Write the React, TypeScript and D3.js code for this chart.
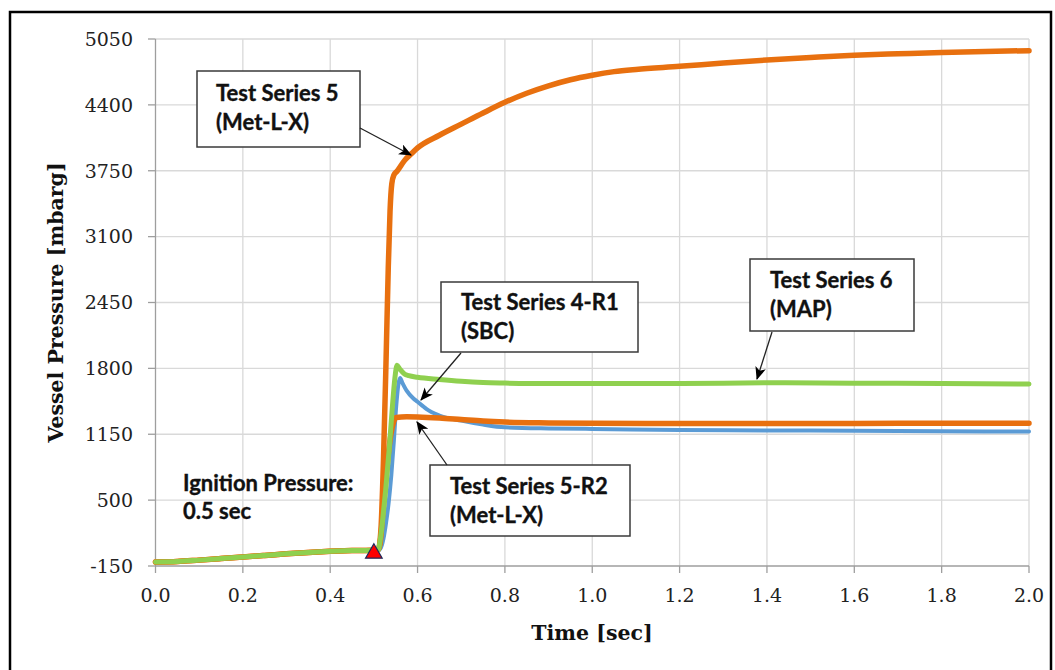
import React from "react";
import * as d3 from "d3";

// Axis ticks
const xTicks = [0, 0.2, 0.4, 0.6, 0.8, 1.0, 1.2, 1.4, 1.6, 1.8, 2.0];
const yTicks = [-150, 500, 1150, 1800, 2450, 3100, 3750, 4400, 5050];

// Shared pre-ignition pressure trace (all tests)
const preTime = [0, 0.05, 0.1, 0.15, 0.2, 0.25, 0.3, 0.35, 0.4, 0.45, 0.5];
const preValue = [-110, -106, -92, -77, -62, -46, -30, -16, -5, 2, 5];

// Test Series 5 (Met-L-X)
const ts5Time = [0.51, 0.516, 0.522, 0.528, 0.533, 0.537, 0.541, 0.546, 0.553, 0.57, 0.59, 0.6, 0.65, 0.7, 0.75, 0.8, 0.85, 0.9, 0.95, 1.0, 1.05, 1.1, 1.2, 1.3, 1.4, 1.5, 1.6, 1.7, 1.8, 1.9, 2.0];
const ts5Value = [10, 200, 900, 1900, 2800, 3350, 3620, 3710, 3745, 3850, 3935, 3975, 4100, 4210, 4320, 4425, 4515, 4588, 4648, 4693, 4728, 4750, 4780, 4813, 4843, 4868, 4890, 4904, 4917, 4927, 4935];

// Test Series 5-R2 (Met-L-X)
const ts5r2Time = [0.51, 0.515, 0.52, 0.527, 0.533, 0.539, 0.545, 0.551, 0.575, 0.6, 0.65, 0.7, 0.75, 0.8, 0.9, 1.0, 1.2, 1.4, 1.6, 1.8, 2.0];
const ts5r2Value = [10, 100, 350, 700, 950, 1150, 1270, 1315, 1322, 1320, 1310, 1295, 1280, 1270, 1262, 1258, 1255, 1256, 1257, 1258, 1258];

// Test Series 4-R1 (SBC)
const ts4Time = [0.51, 0.516, 0.522, 0.528, 0.534, 0.54, 0.546, 0.551, 0.556, 0.56, 0.565, 0.575, 0.59, 0.6, 0.61, 0.62, 0.65, 0.7, 0.75, 0.8, 0.9, 1.0, 1.2, 1.4, 1.6, 1.8, 2.0];
const ts4Value = [5, 30, 120, 280, 480, 750, 1100, 1420, 1640, 1705, 1660, 1580, 1505, 1470, 1435, 1400, 1335, 1285, 1245, 1218, 1207, 1203, 1192, 1188, 1184, 1180, 1176];

// Test Series 6 (MAP)
const ts6Time = [0.51, 0.515, 0.52, 0.527, 0.535, 0.542, 0.548, 0.553, 0.56, 0.57, 0.58, 0.6, 0.65, 0.7, 0.75, 0.8, 0.9, 1.0, 1.2, 1.4, 1.6, 1.8, 2.0];
const ts6Value = [10, 120, 300, 600, 1000, 1400, 1700, 1830, 1790, 1745, 1728, 1712, 1690, 1672, 1660, 1655, 1650, 1650, 1650, 1658, 1654, 1650, 1645];

// Ignition marker
const ignitionTime = 0.5;
const ignitionValue = -25;

const W = 1055;
const H = 670;
const x = d3.scaleLinear().domain([0, 2]).range([155.5, 1029]);
const y = d3.scaleLinear().domain([-150, 5050]).range([566, 39]);

type Pt = [number, number];
const series = (t: number[], v: number[]): Pt[] => {
  const pts: Pt[] = preTime.map((tt, i) => [tt, preValue[i]] as Pt);
  t.forEach((tt, i) => pts.push([tt, v[i]]));
  return pts;
};

const line = d3
  .line<Pt>()
  .x((d) => x(d[0]))
  .y((d) => y(d[1]))
  .curve(d3.curveMonotoneX);

const ORANGE = "#E8700F";
const GREEN = "#8FD04F";
const BLUE = "#5B9BD5";

const tickFont = "'DejaVu Serif', serif";
const noteFont = "Lato, 'Open Sans', sans-serif";

type Note = {
  box: [number, number, number, number];
  lines: string[];
  tx: number;
  ty: number;
  from: Pt;
  to: Pt;
};

const notes: Note[] = [
  { box: [197, 71, 360, 147], lines: ["Test Series 5", "(Met-L-X)"], tx: 216, ty: 101, from: [360, 128], to: [411, 155] },
  { box: [441, 282, 638, 352], lines: ["Test Series 4-R1", "(SBC)"], tx: 461, ty: 310, from: [461, 353], to: [421, 400] },
  { box: [750, 259, 914, 331], lines: ["Test Series 6", "(MAP)"], tx: 770, ty: 288, from: [772, 332], to: [757, 379] },
  { box: [430, 465, 630, 536], lines: ["Test Series 5-R2", "(Met-L-X)"], tx: 450, ty: 494, from: [447, 465], to: [417, 422] },
];

export default function App() {
  const tri = d3.symbol().type(d3.symbolTriangle).size(120)();
  return (
    <svg
      width={W}
      height={H}
      style={{ position: "absolute", left: 0, top: 0, background: "#fff" }}
    >
      <defs>
        <marker
          id="arrowHead"
          viewBox="0 0 12 10"
          refX="11"
          refY="5"
          markerWidth="13"
          markerHeight="11"
          markerUnits="userSpaceOnUse"
          orient="auto"
        >
          <path d="M0,0 L12,5 L0,10 L3,5 Z" fill="#000" />
        </marker>
      </defs>
      <rect x={0} y={0} width={W} height={H} fill="#fff" />

      {/* grid */}
      <g stroke="#d9d9d9" strokeWidth={1.3}>
        {yTicks.slice(1).map((t) => (
          <line key={"gy" + t} x1={x(0)} x2={x(2)} y1={y(t)} y2={y(t)} />
        ))}
        {xTicks.slice(1).map((t) => (
          <line key={"gx" + t} x1={x(t)} x2={x(t)} y1={y(5050)} y2={y(-150)} />
        ))}
      </g>

      {/* axes */}
      <g stroke="#9e9e9e" strokeWidth={1.3}>
        <line x1={x(0)} x2={x(0)} y1={y(5050)} y2={y(-150)} />
        <line x1={x(0)} x2={x(2)} y1={y(-150)} y2={y(-150)} />
        {yTicks.map((t) => (
          <line key={"ty" + t} x1={x(0) - 7.5} x2={x(0)} y1={y(t)} y2={y(t)} />
        ))}
        {xTicks.map((t) => (
          <line key={"tx" + t} x1={x(t)} x2={x(t)} y1={y(-150)} y2={y(-150) + 7} />
        ))}
      </g>

      <g fontFamily={tickFont} fontSize={19} fill="#222">
        {yTicks.map((t) => (
          <text key={"ly" + t} x={133} y={y(t)} dy="0.36em" textAnchor="end">
            {t}
          </text>
        ))}
        {xTicks.map((t) => (
          <text key={"lx" + t} x={x(t)} y={602} textAnchor="middle">
            {t.toFixed(1)}
          </text>
        ))}
      </g>

      <text
        x={592}
        y={640}
        textAnchor="middle"
        fontFamily={tickFont}
        fontWeight="bold"
        fontSize={20.5}
        fill="#111"
      >
        Time [sec]
      </text>
      <text
        transform={`translate(63,${(y(5050) + y(-150)) / 2}) rotate(-90)`}
        textAnchor="middle"
        fontFamily={tickFont}
        fontWeight="bold"
        fontSize={20.5}
        fill="#111"
      >
        Vessel Pressure [mbarg]
      </text>

      {/* series */}
      <g fill="none" strokeLinejoin="round" strokeLinecap="round">
        <path d={line(series(ts4Time, ts4Value)) || ""} stroke={BLUE} strokeWidth={4} />
        <path d={line(series(ts5r2Time, ts5r2Value)) || ""} stroke={ORANGE} strokeWidth={5.5} />
        <path d={line(series(ts5Time, ts5Value)) || ""} stroke={ORANGE} strokeWidth={5.5} />
        <path d={line(series(ts6Time, ts6Value)) || ""} stroke={GREEN} strokeWidth={5} />
      </g>

      <path
        d={tri || ""}
        transform={`translate(${x(ignitionTime)},${y(ignitionValue)})`}
        fill="#ff0000"
        stroke="#1f2a5a"
        strokeWidth={1.2}
      />

      <g fontFamily={noteFont} fontWeight="bold" fontSize={22} fill="#111" stroke="#111" strokeWidth={0.35}>
        <text x={183} y={491}>Ignition Pressure:</text>
        <text x={183} y={519}>0.5 sec</text>
      </g>

      {notes.map((n, i) => (
        <g key={"note" + i}>
          <rect
            x={n.box[0]}
            y={n.box[1]}
            width={n.box[2] - n.box[0]}
            height={n.box[3] - n.box[1]}
            fill="#fff"
            stroke="#3a3a3a"
            strokeWidth={1.5}
          />
          <g fontFamily={noteFont} fontWeight="bold" fontSize={22} fill="#111" stroke="#111" strokeWidth={0.35}>
            {n.lines.map((s, j) => (
              <text key={j} x={n.tx} y={n.ty + j * 29}>
                {s}
              </text>
            ))}
          </g>
          <line
            x1={n.from[0]}
            y1={n.from[1]}
            x2={n.to[0]}
            y2={n.to[1]}
            stroke="#222"
            strokeWidth={1.3}
            markerEnd="url(#arrowHead)"
          />
        </g>
      ))}

      {/* outer frame */}
      <rect x={10} y={12} width={1041} height={700} fill="none" stroke="#000" strokeWidth={2.5} />
    </svg>
  );
}
